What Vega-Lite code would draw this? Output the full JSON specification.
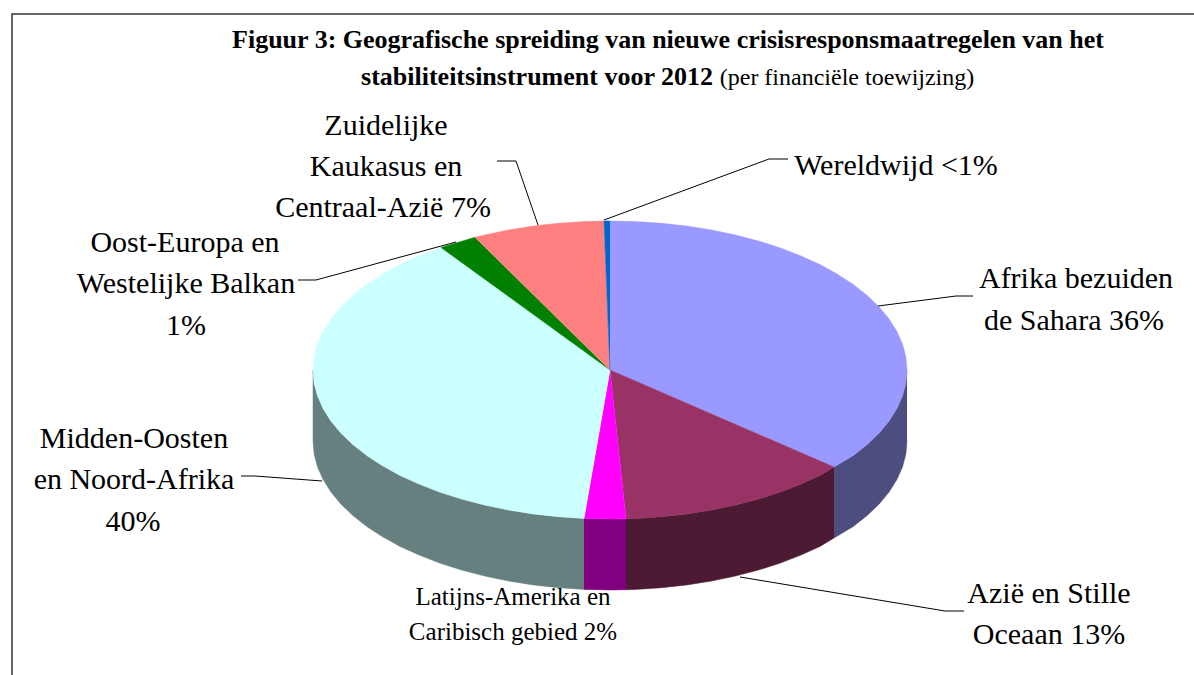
{"$schema":"https://vega.github.io/schema/vega-lite/v6.json","width":1194,"height":675,"padding":0,"autosize":"none","background":"white","view":{"stroke":null},
"datasets":{"pie":[
{"p":"Afrika zij","i":0,"x":907,"y":370},{"p":"Afrika zij","i":0.5,"x":905.9,"y":383},{"p":"Afrika zij","i":1,"x":902.5,"y":395.9},{"p":"Afrika zij","i":1.5,"x":896.9,"y":408.6},{"p":"Afrika zij","i":2,"x":889.1,"y":421},{"p":"Afrika zij","i":2.5,"x":879.2,"y":433},{"p":"Afrika zij","i":3,"x":867.2,"y":444.5},{"p":"Afrika zij","i":3.5,"x":853.3,"y":455.5},{"p":"Afrika zij","i":4,"x":834,"y":467},{"p":"Afrika zij","i":5,"x":834,"y":538},{"p":"Afrika zij","i":5.5,"x":853.3,"y":526.5},{"p":"Afrika zij","i":6,"x":867.2,"y":515.5},{"p":"Afrika zij","i":6.5,"x":879.2,"y":504},{"p":"Afrika zij","i":7,"x":889.1,"y":492},{"p":"Afrika zij","i":7.5,"x":896.9,"y":479.6},{"p":"Afrika zij","i":8,"x":902.5,"y":466.9},{"p":"Afrika zij","i":8.5,"x":905.9,"y":454},{"p":"Afrika zij","i":9,"x":907,"y":441},
{"p":"Azie zij","i":0,"x":834,"y":467},{"p":"Azie zij","i":0.5,"x":820,"y":475.4},{"p":"Azie zij","i":1,"x":800.9,"y":484.1},{"p":"Azie zij","i":1.5,"x":780.4,"y":492.1},{"p":"Azie zij","i":2,"x":758.5,"y":499},{"p":"Azie zij","i":2.5,"x":735.5,"y":505},{"p":"Azie zij","i":3,"x":711.6,"y":510},{"p":"Azie zij","i":3.5,"x":686.9,"y":513.9},{"p":"Azie zij","i":4,"x":661.6,"y":516.7},{"p":"Azie zij","i":4.5,"x":635.9,"y":518.4},{"p":"Azie zij","i":5,"x":626,"y":518.8},{"p":"Azie zij","i":6,"x":626,"y":589.8},{"p":"Azie zij","i":6.5,"x":635.9,"y":589.4},{"p":"Azie zij","i":7,"x":661.6,"y":587.7},{"p":"Azie zij","i":7.5,"x":686.9,"y":584.9},{"p":"Azie zij","i":8,"x":711.6,"y":581},{"p":"Azie zij","i":8.5,"x":735.5,"y":576},{"p":"Azie zij","i":9,"x":758.5,"y":570},{"p":"Azie zij","i":9.5,"x":780.4,"y":563.1},{"p":"Azie zij","i":10,"x":800.9,"y":555.1},{"p":"Azie zij","i":10.5,"x":820,"y":546.4},{"p":"Azie zij","i":11,"x":834,"y":538},
{"p":"Latijns zij","i":0,"x":626,"y":518.8},{"p":"Latijns zij","i":1,"x":610,"y":519},{"p":"Latijns zij","i":2,"x":584,"y":518.4},{"p":"Latijns zij","i":3,"x":584,"y":589.4},{"p":"Latijns zij","i":4,"x":610,"y":590},{"p":"Latijns zij","i":5,"x":626,"y":589.8},
{"p":"Midden zij","i":0,"x":584,"y":518.4},{"p":"Midden zij","i":1,"x":558.4,"y":516.7},{"p":"Midden zij","i":1.5,"x":533.1,"y":513.9},{"p":"Midden zij","i":2,"x":508.4,"y":510},{"p":"Midden zij","i":2.5,"x":484.5,"y":505},{"p":"Midden zij","i":3,"x":461.5,"y":499},{"p":"Midden zij","i":3.5,"x":439.6,"y":492.1},{"p":"Midden zij","i":4,"x":419.1,"y":484.1},{"p":"Midden zij","i":4.5,"x":400,"y":475.4},{"p":"Midden zij","i":5,"x":382.5,"y":465.8},{"p":"Midden zij","i":5.5,"x":366.7,"y":455.5},{"p":"Midden zij","i":6,"x":352.8,"y":444.5},{"p":"Midden zij","i":6.5,"x":340.8,"y":433},{"p":"Midden zij","i":7,"x":330.9,"y":421},{"p":"Midden zij","i":7.5,"x":323.1,"y":408.6},{"p":"Midden zij","i":8,"x":317.5,"y":395.9},{"p":"Midden zij","i":8.5,"x":314.1,"y":383},{"p":"Midden zij","i":9,"x":313,"y":370},{"p":"Midden zij","i":10,"x":313,"y":441},{"p":"Midden zij","i":10.5,"x":314.1,"y":454},{"p":"Midden zij","i":11,"x":317.5,"y":466.9},{"p":"Midden zij","i":11.5,"x":323.1,"y":479.6},{"p":"Midden zij","i":12,"x":330.9,"y":492},{"p":"Midden zij","i":12.5,"x":340.8,"y":504},{"p":"Midden zij","i":13,"x":352.8,"y":515.5},{"p":"Midden zij","i":13.5,"x":366.7,"y":526.5},{"p":"Midden zij","i":14,"x":382.5,"y":536.8},{"p":"Midden zij","i":14.5,"x":400,"y":546.4},{"p":"Midden zij","i":15,"x":419.1,"y":555.1},{"p":"Midden zij","i":15.5,"x":439.6,"y":563.1},{"p":"Midden zij","i":16,"x":461.5,"y":570},{"p":"Midden zij","i":16.5,"x":484.5,"y":576},{"p":"Midden zij","i":17,"x":508.4,"y":581},{"p":"Midden zij","i":17.5,"x":533.1,"y":584.9},{"p":"Midden zij","i":18,"x":558.4,"y":587.7},{"p":"Midden zij","i":19,"x":584,"y":589.4},
{"p":"Afrika","i":0,"x":610,"y":370},{"p":"Afrika","i":1,"x":610,"y":221},{"p":"Afrika","i":1.5,"x":635.9,"y":221.6},{"p":"Afrika","i":2,"x":661.6,"y":223.3},{"p":"Afrika","i":2.5,"x":686.9,"y":226.1},{"p":"Afrika","i":3,"x":711.6,"y":230},{"p":"Afrika","i":3.5,"x":735.5,"y":235},{"p":"Afrika","i":4,"x":758.5,"y":241},{"p":"Afrika","i":4.5,"x":780.4,"y":247.9},{"p":"Afrika","i":5,"x":800.9,"y":255.9},{"p":"Afrika","i":5.5,"x":820,"y":264.6},{"p":"Afrika","i":6,"x":837.5,"y":274.2},{"p":"Afrika","i":6.5,"x":853.3,"y":284.5},{"p":"Afrika","i":7,"x":867.2,"y":295.5},{"p":"Afrika","i":7.5,"x":879.2,"y":307},{"p":"Afrika","i":8,"x":889.1,"y":319},{"p":"Afrika","i":8.5,"x":896.9,"y":331.4},{"p":"Afrika","i":9,"x":902.5,"y":344.1},{"p":"Afrika","i":9.5,"x":905.9,"y":357},{"p":"Afrika","i":10,"x":907,"y":370},{"p":"Afrika","i":10.5,"x":905.9,"y":383},{"p":"Afrika","i":11,"x":902.5,"y":395.9},{"p":"Afrika","i":11.5,"x":896.9,"y":408.6},{"p":"Afrika","i":12,"x":889.1,"y":421},{"p":"Afrika","i":12.5,"x":879.2,"y":433},{"p":"Afrika","i":13,"x":867.2,"y":444.5},{"p":"Afrika","i":13.5,"x":853.3,"y":455.5},{"p":"Afrika","i":14,"x":834,"y":467},
{"p":"Azie","i":0,"x":610,"y":370},{"p":"Azie","i":1,"x":834,"y":467},{"p":"Azie","i":1.5,"x":820,"y":475.4},{"p":"Azie","i":2,"x":800.9,"y":484.1},{"p":"Azie","i":2.5,"x":780.4,"y":492.1},{"p":"Azie","i":3,"x":758.5,"y":499},{"p":"Azie","i":3.5,"x":735.5,"y":505},{"p":"Azie","i":4,"x":711.6,"y":510},{"p":"Azie","i":4.5,"x":686.9,"y":513.9},{"p":"Azie","i":5,"x":661.6,"y":516.7},{"p":"Azie","i":5.5,"x":635.9,"y":518.4},{"p":"Azie","i":6,"x":626,"y":518.8},
{"p":"Latijns","i":0,"x":610,"y":370},{"p":"Latijns","i":1,"x":626,"y":518.8},{"p":"Latijns","i":2,"x":610,"y":519},{"p":"Latijns","i":3,"x":584,"y":518.4},
{"p":"Midden","i":0,"x":610,"y":370},{"p":"Midden","i":1,"x":584,"y":518.4},{"p":"Midden","i":2,"x":558.4,"y":516.7},{"p":"Midden","i":2.5,"x":533.1,"y":513.9},{"p":"Midden","i":3,"x":508.4,"y":510},{"p":"Midden","i":3.5,"x":484.5,"y":505},{"p":"Midden","i":4,"x":461.5,"y":499},{"p":"Midden","i":4.5,"x":439.6,"y":492.1},{"p":"Midden","i":5,"x":419.1,"y":484.1},{"p":"Midden","i":5.5,"x":400,"y":475.4},{"p":"Midden","i":6,"x":382.5,"y":465.8},{"p":"Midden","i":6.5,"x":366.7,"y":455.5},{"p":"Midden","i":7,"x":352.8,"y":444.5},{"p":"Midden","i":7.5,"x":340.8,"y":433},{"p":"Midden","i":8,"x":330.9,"y":421},{"p":"Midden","i":8.5,"x":323.1,"y":408.6},{"p":"Midden","i":9,"x":317.5,"y":395.9},{"p":"Midden","i":9.5,"x":314.1,"y":383},{"p":"Midden","i":10,"x":313,"y":370},{"p":"Midden","i":10.5,"x":314.1,"y":357},{"p":"Midden","i":11,"x":317.5,"y":344.1},{"p":"Midden","i":11.5,"x":323.1,"y":331.4},{"p":"Midden","i":12,"x":330.9,"y":319},{"p":"Midden","i":12.5,"x":340.8,"y":307},{"p":"Midden","i":13,"x":352.8,"y":295.5},{"p":"Midden","i":13.5,"x":366.7,"y":284.5},{"p":"Midden","i":14,"x":382.5,"y":274.2},{"p":"Midden","i":14.5,"x":400,"y":264.6},{"p":"Midden","i":15,"x":419.1,"y":255.9},{"p":"Midden","i":16,"x":441,"y":247.5},
{"p":"Oost","i":0,"x":610,"y":370},{"p":"Oost","i":1,"x":441,"y":247.5},{"p":"Oost","i":2,"x":475,"y":237.3},
{"p":"Zuid","i":0,"x":610,"y":370},{"p":"Zuid","i":1,"x":475,"y":237.3},{"p":"Zuid","i":1.5,"x":484.5,"y":235},{"p":"Zuid","i":2,"x":508.4,"y":230},{"p":"Zuid","i":2.5,"x":533.1,"y":226.1},{"p":"Zuid","i":3,"x":558.4,"y":223.3},{"p":"Zuid","i":3.5,"x":584.1,"y":221.6},{"p":"Zuid","i":4,"x":604,"y":221},
{"p":"Wereld","i":0,"x":610,"y":370},{"p":"Wereld","i":1,"x":604,"y":221},{"p":"Wereld","i":2,"x":610,"y":221}
],
"leaders":[
{"l":"Zuid","i":0,"x":497,"y":161},{"l":"Zuid","i":1,"x":516,"y":161},{"l":"Zuid","i":2,"x":538,"y":225},
{"l":"Wereld","i":0,"x":788,"y":159},{"l":"Wereld","i":1,"x":769,"y":159},{"l":"Wereld","i":2,"x":604,"y":220},
{"l":"Afrika","i":0,"x":973,"y":296},{"l":"Afrika","i":1,"x":956,"y":296},{"l":"Afrika","i":2,"x":878,"y":306},
{"l":"Oost","i":0,"x":298,"y":280},{"l":"Oost","i":1,"x":316,"y":280},{"l":"Oost","i":2,"x":456,"y":242},
{"l":"Midden","i":0,"x":241,"y":476},{"l":"Midden","i":1,"x":255,"y":476},{"l":"Midden","i":2,"x":322,"y":481},
{"l":"Azie","i":0,"x":964,"y":611},{"l":"Azie","i":1,"x":945,"y":611},{"l":"Azie","i":2,"x":740,"y":577}
],
"frame":[{"i":0,"x":1194,"y":14},{"i":1,"x":12,"y":14},{"i":2,"x":12,"y":675}]},
"layer":[
{"data":{"name":"frame"},"mark":{"type":"line","color":"#333333","strokeWidth":1.5},"encoding":{"x":{"field":"x","type":"quantitative","scale":{"domain":[0,1194],"nice":false,"zero":false},"axis":null},"y":{"field":"y","type":"quantitative","scale":{"domain":[675,0],"nice":false,"zero":false},"axis":null},"order":{"field":"i"}}},
{"data":{"name":"pie"},"mark":{"type":"line","filled":true,"strokeWidth":0.5},"encoding":{"x":{"field":"x","type":"quantitative"},"y":{"field":"y","type":"quantitative"},"order":{"field":"i"},"detail":{"field":"p"},
"fill":{"field":"p","type":"nominal","legend":null,"scale":{"domain":["Afrika zij","Azie zij","Latijns zij","Midden zij","Afrika","Azie","Latijns","Midden","Oost","Zuid","Wereld"],"range":["#4D4D80","#4D1A33","#800080","#668080","#9999FF","#993366","#FF00FF","#CCFFFF","#008000","#FF8080","#0066CC"]}},
"stroke":{"field":"p","type":"nominal","legend":null,"scale":{"domain":["Afrika zij","Azie zij","Latijns zij","Midden zij","Afrika","Azie","Latijns","Midden","Oost","Zuid","Wereld"],"range":["#4D4D80","#4D1A33","#800080","#668080","#9999FF","#993366","#FF00FF","#CCFFFF","#008000","#FF8080","#0066CC"]}}}},
{"data":{"name":"leaders"},"mark":{"type":"line","color":"#000000","strokeWidth":1},"encoding":{"x":{"field":"x","type":"quantitative"},"y":{"field":"y","type":"quantitative"},"order":{"field":"i"},"detail":{"field":"l"}}},
{"data":{"values":[
{"t":"Zuidelijke","x":386,"y":135},{"t":"Kaukasus en","x":386,"y":176},{"t":"Centraal-Azië 7%","x":383,"y":217},
{"t":"Oost-Europa en","x":185,"y":252},{"t":"Westelijke Balkan","x":186,"y":293},{"t":"1%","x":186,"y":335},
{"t":"Wereldwijd <1%","x":896,"y":175},
{"t":"Afrika bezuiden","x":1076,"y":288},{"t":"de Sahara 36%","x":1074,"y":330},
{"t":"Midden-Oosten","x":134,"y":448},{"t":"en Noord-Afrika","x":134,"y":489},{"t":"40%","x":133,"y":531},
{"t":"Azië en Stille","x":1049,"y":603},{"t":"Oceaan 13%","x":1049,"y":644}
]},"mark":{"type":"text","font":"Liberation Serif","fontSize":30,"align":"center","baseline":"alphabetic","color":"#000000"},"encoding":{"x":{"field":"x","type":"quantitative"},"y":{"field":"y","type":"quantitative"},"text":{"field":"t"}}},
{"data":{"values":[{"t":"Latijns-Amerika en","x":513,"y":605},{"t":"Caribisch gebied 2%","x":513,"y":640}]},"mark":{"type":"text","font":"Liberation Serif","fontSize":25,"align":"center","baseline":"alphabetic","color":"#000000"},"encoding":{"x":{"field":"x","type":"quantitative"},"y":{"field":"y","type":"quantitative"},"text":{"field":"t"}}},
{"data":{"values":[{"t":"Figuur 3: Geografische spreiding van nieuwe crisisresponsmaatregelen van het","x":668,"y":48},{"t":"stabiliteitsinstrument voor 2012","x":537,"y":85}]},"mark":{"type":"text","font":"Liberation Serif","fontSize":26,"fontWeight":"bold","align":"center","baseline":"alphabetic","color":"#000000"},"encoding":{"x":{"field":"x","type":"quantitative"},"y":{"field":"y","type":"quantitative"},"text":{"field":"t"}}},
{"data":{"values":[{"t":"(per financiële toewijzing)","x":847,"y":85}]},"mark":{"type":"text","font":"Liberation Serif","fontSize":24,"align":"center","baseline":"alphabetic","color":"#000000"},"encoding":{"x":{"field":"x","type":"quantitative"},"y":{"field":"y","type":"quantitative"},"text":{"field":"t"}}}
]}
